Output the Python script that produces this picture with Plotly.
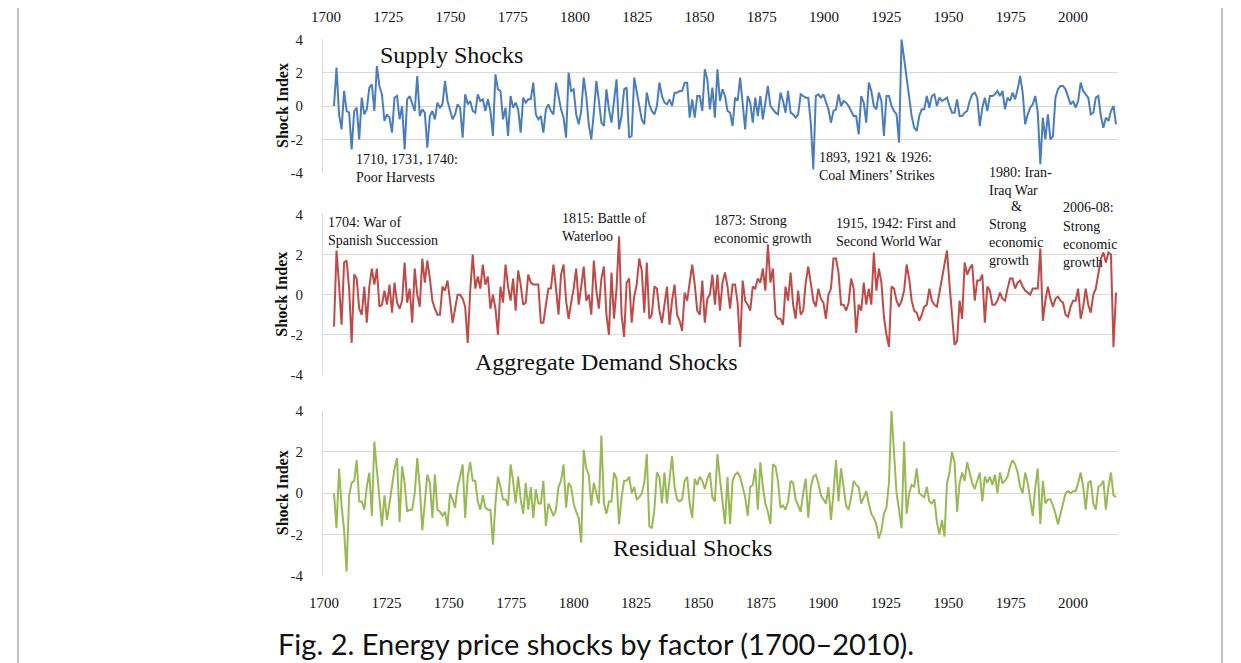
import plotly.graph_objects as go

# ---------------- data ----------------
start_year = 1700

supply = [
    # 1700-1771
    0.0, 2.3, -0.5, -1.4, 0.9, -0.3, -0.4, -2.6, -0.3, -0.1, -2.0, 0.5, -0.5, -0.2, 1.1, 1.3, -0.3, 2.4, 1.2, 0.7,
    -0.9, -0.5, -0.7, -1.6, 0.5, 0.6, -0.8, 0.0, -2.6, 0.4, 0.6, 0.1, -0.3, 1.8, -0.6, -0.2, -0.4, -2.5, -0.6, -0.3,
    -0.8, 0.2, -0.1, 0.1, 1.5, 0.3, -0.3, -0.8, -0.5, 0.1, -0.1, -1.9, 0.7, 0.1, 0.3, -0.3, -0.4, 0.7, 0.3, 0.4,
    -0.3, 0.4, -0.3, -1.8, 1.9, 1.0, 0.9, -0.8, -0.1, -1.8, 0.6, -0.1,
    # 1772-1848
    0.2, -0.2, -1.6, 0.5, 0.2, 0.4, 0.4, 1.4, -0.5, -0.8, -0.6, -1.6, -0.2, 0.1, -0.3, -0.5, 1.4, 0.6, -0.2, -0.7,
    -1.9, 2.0, 0.9, 1.0, -0.5, -1.1, -0.3, 1.7, 0.6, -1.1, -2.0, -0.4, 1.5, 0.3, -1.0, -1.2, 1.0, -0.2, -1.0, 0.3,
    1.6, -1.4, -0.6, 1.0, 1.1, -1.9, -1.8, 1.7, 0.9, -0.1, -0.8, -1.1, 0.8, 0.1, -0.3, -0.5, 0.0, 1.4, 0.6, 0.2,
    0.1, 0.4, 0.0, 0.8, 0.8, 0.9, 0.9, 1.4, 1.4, -0.7, 0.4, -0.7, 0.6, 0.6, -0.3, 2.2, 1.6,
    # 1849-1925
    -0.2, 1.1, -0.7, 2.2, 0.3, 1.0, 0.6, -0.3, -0.4, -1.2, 0.5, 0.3, 1.7, 0.2, -1.4, 0.6, 0.2, -1.0, 0.5, -0.6,
    0.6, -0.8, 0.3, 1.2, 0.0, -0.2, -0.4, -0.5, 0.8, 0.3, -0.4, 0.9, -0.4, -0.5, -0.7, -0.5, 0.7, 0.6, 0.5, 0.5,
    -1.0, -3.8, 0.6, 0.7, 0.5, 0.7, 0.3, -0.2, -1.0, -0.3, -0.2, 0.7, 0.0, 0.3, 0.2, 0.0, -0.3, -0.6, -0.6, -1.7,
    0.6, 0.2, -1.0, 1.4, 0.9, 0.0, -0.2, 0.8, 0.3, -1.8, 0.6, 0.6, 0.0, -0.3, -0.5, -2.2, 4.0,
    # 1926-2010
    2.8, 1.6, 0.3, -0.6, -1.3, -1.5, -0.6, -0.2, -0.2, 0.6, -0.1, 0.6, 0.7, 0.0, 0.5, 0.3, 0.4, 0.5, 0.0, -0.4,
    -0.4, 0.4, -0.6, -0.6, -0.4, -0.3, 0.3, 0.7, 0.8, 0.5, -1.2, -0.1, 0.5, -0.3, 0.6, 0.6, 0.7, 0.9, 0.6, 0.9,
    -0.2, 0.5, 0.3, 0.8, 0.4, 1.0, 1.8, 0.8, -1.1, -0.5, -0.1, 0.1, 0.6, -0.4, -3.5, -0.7, -2.0, -0.5, -2.0, -1.8,
    0.5, 1.0, 1.2, 1.2, 1.0, 0.6, 0.1, 0.3, -0.1, 0.3, 1.4, 0.9, 0.7, 0.5, -0.5, -0.4, 0.5, 0.6, -0.6, -1.3,
    -0.7, -0.9, -0.3, 0.0, -1.1,
]

demand = [
    # 1700-1771
    -1.6, 2.2, 0.5, -1.5, 1.6, 1.7, 0.3, -2.4, 1.0, 0.8, -0.7, -1.0, 0.4, -1.4, 0.4, 1.3, 0.5, 1.3, -0.6, -0.5,
    0.2, -0.5, 0.5, -0.9, 0.6, -0.4, -0.7, -0.3, 1.6, -0.4, 0.3, -1.4, 1.3, 0.0, -0.6, 1.8, 0.6, 1.7, 0.8, -0.3,
    -0.7, -1.0, -1.0, 0.4, 0.2, 0.7, -0.3, -1.4, -0.7, 0.0, 0.0, -0.2, -0.6, -2.4, 0.2, 2.0, 0.3, 0.9, 0.3, 1.5,
    0.5, 0.9, -0.7, 0.0, -0.7, -2.0, 0.4, -0.4, 1.5, 0.4, -0.3, 0.8,
    # 1772-1848
    -0.8, 1.2, 0.5, -0.5, -0.4, 1.0, 0.6, 0.5, 0.5, 0.5, -1.4, -1.4, -0.5, 0.3, 0.3, 1.5, 0.3, -1.0, 1.0, 1.5,
    -0.3, -1.2, -0.4, 0.3, 1.3, -0.5, 0.4, 1.4, -0.3, 0.0, -1.0, 1.7, 0.2, -0.7, 0.8, 1.4, -1.0, -2.0, 1.1, -1.2,
    0.3, 2.9, -1.0, -2.1, 0.6, 0.8, -1.4, -0.1, 0.5, 1.8, 1.2, -0.9, 1.6, -1.2, -1.0, 0.4, 0.3, -0.8, -1.4, -0.5,
    0.4, -1.5, -0.3, 0.5, -1.0, -1.3, -1.8, 0.1, -0.3, 0.6, 1.5, 0.5, -0.8, -1.0, 0.7, -1.4, -0.2,
    # 1849-1925
    0.0, 1.0, -0.5, 1.0, -0.8, 0.6, 1.1, 0.4, -0.7, 0.5, 0.5, -0.4, -2.6, 0.7, -0.3, -0.5, -0.8, 0.4, 0.3, 0.8,
    0.6, 1.3, 0.2, 2.5, 0.6, 1.3, -1.0, -1.2, -1.2, -1.5, 0.4, -0.3, 1.1, -0.5, -1.2, 0.2, -1.0, -0.8, 0.6, 1.4,
    0.6, -0.3, -0.6, 0.3, -0.2, -0.4, -1.2, 0.0, 0.3, 1.8, 1.8, 1.1, -0.5, -0.5, -0.8, -0.4, 0.8, 0.3, -1.9, -0.5,
    -0.8, 0.6, -0.5, 0.3, -0.5, 2.1, 0.2, 1.3, 0.6, -1.1, -2.0, -2.6, 0.4, 0.3, -0.3, -0.6, -0.3,
    # 1926-2010
    0.2, 1.5, 0.8, -0.3, -0.8, -0.9, -1.3, -1.0, -0.6, -0.5, 0.3, -0.3, -0.5, -0.6, 0.2, 0.8, 1.5, 2.2, 0.5, -1.0,
    -2.5, -2.3, -0.3, -1.2, 1.6, 1.0, 1.3, 1.5, -0.3, 0.7, 0.7, 1.0, -1.4, 0.4, 0.2, -0.5, -0.5, -0.3, 0.1, -0.2,
    -0.3, 0.3, 0.8, 0.8, 0.3, 0.6, 0.7, 0.4, 0.2, 0.1, 0.0, 0.3, 0.3, 0.3, 2.3, -1.3, -0.3, 0.4, -0.2, -0.6,
    -0.2, -0.1, -0.3, -0.4, -1.0, -1.1, -0.6, -0.3, -0.3, 0.3, -1.2, -0.6, 0.3, -0.5, -0.9, 0.0, 0.3, 1.0, 1.8, 2.1,
    1.6, 2.1, 2.0, -2.6, 0.1,
]

residual = [
    # 1700-1771
    0.0, -1.7, 1.2, -0.6, -1.8, -3.8, -0.1, 0.5, 0.6, 1.6, -0.4, -0.4, -0.8, 0.3, 1.0, -1.1, 2.5, 1.2, -0.3, -1.6,
    -0.1, -1.3, -0.5, 0.5, 1.2, 1.7, -1.4, 1.3, 0.5, -0.9, -0.8, -0.8, 0.0, 1.7, 0.3, -1.8, -0.5, 0.9, 0.5, -1.2,
    0.9, -0.8, -0.9, -1.1, -0.9, -1.6, 0.0, -0.3, -0.7, 0.3, 0.8, 1.4, -1.2, 0.8, 1.5, 0.6, 0.6, -0.4, -0.8, -0.1,
    -0.7, -0.8, -0.8, -2.5, -0.5, 0.8, 0.3, -0.3, -0.3, -0.6, 1.4, 0.6,
    # 1772-1848
    -0.5, 0.8, -0.3, -1.0, 0.5, -0.8, 0.3, -1.2, 0.2, -0.5, -0.5, 0.6, -1.6, -0.5, -0.8, -1.1, -0.8, 0.3, 0.6, 1.4,
    -0.7, 0.5, 0.3, -0.5, -0.9, -1.2, -2.4, 2.1, 1.2, 0.9, -0.6, 0.5, 0.0, -0.5, 2.8, -0.5, -1.0, -0.4, -0.4, 1.0,
    0.7, -1.5, -0.2, 0.6, 0.6, 0.8, 0.0, 0.3, -0.3, -0.2, 0.0, 0.5, 1.9, -1.6, -1.7, -0.8, 1.0, 0.8, -0.5, 1.0,
    -0.5, 0.5, 1.8, 0.3, -0.3, -0.4, -0.3, 0.6, 0.8, -0.5, -1.2, 0.7, 0.4, 0.8, 0.6, 0.2, 0.7,
    # 1849-1925
    1.0, -0.2, -0.4, 1.9, 0.7, -0.5, -1.5, 0.8, -1.5, 0.6, 0.9, 1.0, 0.8, 0.3, -0.2, -1.1, 0.3, 0.4, 1.2, -0.8,
    1.5, 0.3, -0.5, -0.9, -1.5, 1.4, 1.3, 0.6, -0.7, -0.6, -0.8, -0.4, 0.6, 0.5, -0.3, -0.6, -0.9, 0.0, 0.7, -1.2,
    0.3, 0.8, 0.9, 0.5, -0.1, -0.3, -0.5, 0.3, -1.3, 0.0, 1.6, -0.4, 1.2, 0.3, -0.6, -0.8, -0.2, 0.6, 0.4, 0.3,
    -0.5, -0.2, 0.1, -0.5, -1.0, -1.2, -1.5, -2.2, -1.8, -1.0, -0.7, 0.5, 4.0, 2.0, 0.0, -0.8, -1.7,
    # 1926-2010
    2.5, -1.0, 0.0, 0.4, 0.3, 1.2, 0.0, -0.1, -0.2, 0.3, -0.4, -0.5, -0.3, -1.4, -2.0, -1.3, -2.1, 0.5, 1.0, 2.0,
    1.5, -0.9, 0.5, 1.0, 0.6, 1.5, 1.0, 0.5, 0.2, 0.6, 1.0, -0.4, 0.8, 0.5, 0.8, 0.4, 0.9, 0.0, 1.0, 0.5,
    0.6, 0.8, 1.3, 1.6, 1.4, 1.0, 0.3, 0.0, 1.0, 0.5, -0.3, -1.1, 0.3, 1.2, -1.5, 0.6, -0.5, -0.3, -0.3, -0.6,
    -1.0, -1.5, -1.0, -0.5, 0.0, 0.1, 0.0, 0.1, 0.1, 0.5, 1.0, 0.3, -0.8, 0.5, 0.6, -0.5, -0.8, 0.3, 0.4, 0.6,
    -0.8, 0.3, 1.0, -0.1, -0.2,
]

x_tick_labels = ["1700", "1725", "1750", "1775", "1800", "1825", "1850",
                 "1875", "1900", "1925", "1950", "1975", "2000"]
y_ticks = [4, 2, 0, -2, -4]

panel_titles = ["Supply Shocks", "Aggregate Demand Shocks", "Residual Shocks"]
y_title = "Shock Index"
caption = "Fig. 2. Energy price shocks by factor (1700\u20132010)."

events_supply = [
    "1710, 1731, 1740:<br>Poor Harvests",
    "1893, 1921 &amp; 1926:<br>Coal Miners\u2019 Strikes",
    "1980: Iran-<br>Iraq War",
]
events_demand = [
    "1704: War of<br>Spanish Succession",
    "1815: Battle of<br>Waterloo",
    "1873: Strong<br>economic growth",
    "1915, 1942: First and<br>Second World War",
    "2006-08:",
]
growth_text = "Strong<br>economic<br>growth"

# ---------------- layout helpers ----------------
# the page body has an 8px margin, so the figure is drawn 8px in from the corner
PAGE_OFF = 8
W, H = 1241 - PAGE_OFF, 663 - PAGE_OFF
SERIF = "Liberation Serif, Times New Roman, serif"


def fx(p):
    return (p - PAGE_OFF) / W


def fy(p):
    return 1 - (p - PAGE_OFF) / H


def years_for(values):
    return list(range(start_year, start_year + len(values)))


fig = go.Figure()
colors = ["#4a7ebb", "#be4b48", "#98b954"]
series = [supply, demand, residual]
for i, (vals, col) in enumerate(zip(series, colors)):
    sfx = "" if i == 0 else str(i + 1)
    fig.add_trace(go.Scatter(x=years_for(vals), y=vals, mode="lines",
                             line=dict(color=col, width=2),
                             xaxis="x" + sfx, yaxis="y" + sfx,
                             showlegend=False, hoverinfo="skip"))

# plot-area pixel geometry (page pixels)
x_left, x_right = 323, 1118
data_px0, data_px1 = 334, 1116          # pixel of first / last data year
scale = (data_px1 - data_px0) / (len(supply) - 1)
x_range = [start_year - (data_px0 - x_left) / scale,
           start_year + len(supply) - 1 + (x_right - data_px1) / scale]

panels_px = [(39.3, 172.7), (214.3, 375.0), (410.7, 575.7)]
grid_col = "#d9d9d9"

layout = dict(
    width=W, height=H,
    margin=dict(l=0, r=0, t=0, b=0, autoexpand=False),
    paper_bgcolor="white", plot_bgcolor="white",
    showlegend=False,
)

for i, (top, bot) in enumerate(panels_px):
    sfx = "" if i == 0 else str(i + 1)
    layout["xaxis" + sfx] = dict(
        domain=[fx(x_left), fx(x_right)], range=x_range, automargin=False,
        anchor="y" + sfx, showticklabels=False, showgrid=False,
        zeroline=False, showline=False, ticks="")
    layout["yaxis" + sfx] = dict(
        domain=[fy(bot), fy(top)], range=[-4, 4], anchor="x" + sfx, automargin=False,
        tickmode="array", tickvals=y_ticks, ticktext=[str(v) for v in y_ticks],
        showgrid=True, gridcolor=grid_col, gridwidth=1, zeroline=False,
        showline=True, linecolor=grid_col, linewidth=1,
        ticks="outside", ticklen=16, tickcolor="rgba(0,0,0,0)",
        tickfont=dict(family=SERIF, size=15, color="#222"))

# label-only axes for the year scale (top and bottom)
lab_vals = [int(t) for t in x_tick_labels]
layout["xaxis4"] = dict(
    overlaying="x3", anchor="y3", side="bottom", automargin=False,
    range=[1699.6, 2018.0], tickmode="array", tickvals=lab_vals, ticktext=x_tick_labels,
    showgrid=False, zeroline=False, showline=False,
    ticks="outside", ticklen=13, tickcolor="rgba(0,0,0,0)",
    tickfont=dict(family=SERIF, size=15, color="#111"))
layout["xaxis5"] = dict(
    overlaying="x", anchor="y", side="top", automargin=False,
    range=[1698.8, 2018.07], tickmode="array", tickvals=lab_vals, ticktext=x_tick_labels,
    showgrid=False, zeroline=False, showline=False,
    ticks="outside", ticklen=10, tickcolor="rgba(0,0,0,0)",
    tickfont=dict(family=SERIF, size=15, color="#111"))

fig.update_layout(**layout)
# invisible helper traces so the label axes render
fig.add_trace(go.Scatter(x=[1700], y=[None], xaxis="x4", yaxis="y3", showlegend=False, hoverinfo="skip"))
fig.add_trace(go.Scatter(x=[1700], y=[None], xaxis="x5", yaxis="y", showlegend=False, hoverinfo="skip"))

ann = []


def note(text, xl, ytop, bg=None, size=14, anchor="left"):
    ann.append(dict(text=text, x=fx(xl), y=fy(ytop), xref="paper", yref="paper",
                    xanchor=anchor, yanchor="top", showarrow=False, align="left",
                    font=dict(family=SERIF, size=size, color="#111"),
                    bgcolor=bg if bg else "rgba(0,0,0,0)", borderpad=0))


# panel titles
for txt, (cx, cy) in zip(panel_titles, [(451, 55), (606, 362), (692, 548)]):
    ann.append(dict(text=txt, x=fx(cx), y=fy(cy), xref="paper", yref="paper",
                    xanchor="center", yanchor="middle", showarrow=False,
                    font=dict(family=SERIF, size=24, color="#111")))

# y-axis titles
for (top, bot) in panels_px:
    ann.append(dict(text="<b>" + y_title + "</b>", x=fx(282), y=fy((top + bot) / 2),
                    xref="paper", yref="paper", xanchor="center", yanchor="middle",
                    textangle=-90, showarrow=False,
                    font=dict(family=SERIF, size=16, color="#111")))

# event notes
note(events_supply[0], 355, 151, bg="white")
note(events_supply[1], 818, 149, bg="white")
note(events_supply[2], 988, 164, bg="white")
note("&amp;", 1016, 198, bg="white", anchor="center")
note(growth_text, 988, 216)
note(events_demand[0], 327, 214)
note(events_demand[1], 561, 210)
note(events_demand[2], 713, 212)
note(events_demand[3], 835, 215)
note(events_demand[4], 1062, 199, bg="white")
note(growth_text, 1062, 218)

# caption (box bottom sits on the lower edge of the figure)
ann.append(dict(text=caption, x=fx(596), y=0, xref="paper", yref="paper",
                xanchor="center", yanchor="bottom", showarrow=False,
                font=dict(family="Lato, Carlito, Calibri, sans-serif", size=29, color="#111")))

fig.update_layout(annotations=ann)

# outer frame (left and right borders of the figure box)
frame = dict(type="line", xref="paper", yref="paper", line=dict(color="#7f7f7f", width=1))
fig.update_layout(shapes=[
    dict(frame, x0=fx(18), x1=fx(18), y0=0, y1=1),
    dict(frame, x0=fx(1222), x1=fx(1222), y0=0, y1=1),
])

fig.write_html("out.html")
